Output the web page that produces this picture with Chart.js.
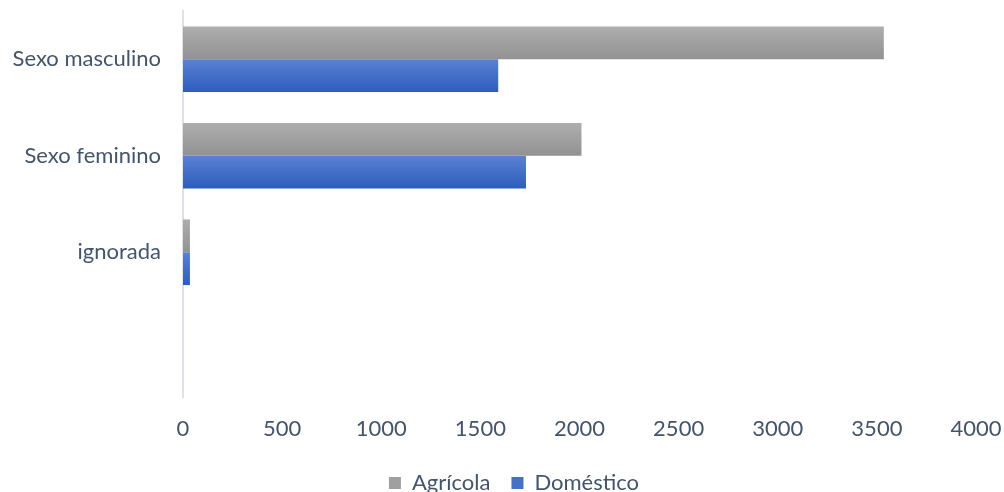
<!DOCTYPE html>
<html>
<head>
<meta charset="utf-8">
<script src="https://cdn.jsdelivr.net/npm/chart.js@4.4.1/dist/chart.umd.min.js"></script>
<style>
html,body{margin:0;padding:0;background:#fff;overflow:hidden;}
#wrap{position:relative;width:1004px;height:504px;}
</style>
</head>
<body>
<div id="wrap"><canvas id="c" width="1004" height="504"></canvas></div>
<script>
const categories = ["Sexo masculino", "Sexo feminino", "ignorada", ""];
const agricola = [3535, 2010, 35, null];
const domestico = [1590, 1730, 35, null];
const xTicks = [0, 500, 1000, 1500, 2000, 2500, 3000, 3500, 4000];
const seriesNames = ["Agrícola", "Doméstico"];

const TEXT = "#44546A";
const FONT = "Lato, 'Open Sans', sans-serif";
const CAT_PCT = 0.68;
const LEGEND_SHIFT = 26;

function barGradient(context, dsIndex, c1, c2) {
  const chart = context.chart;
  const y = chart.scales && chart.scales.y;
  if (!chart.chartArea || !y || context.dataIndex === undefined) return c2;
  const i = context.dataIndex;
  const center = y.getPixelForValue(i);
  const catW = chart.chartArea.height / categories.length;
  const group = catW * CAT_PCT;
  const top = dsIndex === 0 ? center - group / 2 : center;
  const bottom = top + group / 2;
  const g = chart.ctx.createLinearGradient(0, top, 0, bottom);
  g.addColorStop(0, c1);
  g.addColorStop(1, c2);
  return g;
}

const legendShift = {
  id: "legendShift",
  afterLayout(chart) {
    if (chart.legend) {
      chart.legend.left += LEGEND_SHIFT;
      chart.legend.right += LEGEND_SHIFT;
    }
  }
};

new Chart(document.getElementById("c"), {
  type: "bar",
  data: {
    labels: categories,
    datasets: [
      {
        label: seriesNames[0],
        data: agricola,
        backgroundColor: (ctx) => barGradient(ctx, 0, "#aeaeae", "#929292"),
        borderWidth: 0,
        categoryPercentage: CAT_PCT,
        barPercentage: 1.0
      },
      {
        label: seriesNames[1],
        data: domestico,
        backgroundColor: (ctx) => barGradient(ctx, 1, "#5a81d3", "#2d5dbd"),
        borderWidth: 0,
        categoryPercentage: CAT_PCT,
        barPercentage: 1.0
      }
    ]
  },
  plugins: [legendShift],
  options: {
    indexAxis: "y",
    responsive: false,
    animation: false,
    layout: { padding: { left: 0, right: 28, top: 11, bottom: 0 } },
    plugins: {
      tooltip: { enabled: false },
      legend: {
        position: "bottom",
        labels: {
          color: TEXT,
          font: { family: FONT, size: 22 },
          boxWidth: 12,
          boxHeight: 12,
          padding: 21,
          generateLabels: (chart) => [
            { text: seriesNames[0], fillStyle: "#a0a0a0", strokeStyle: "#a0a0a0", lineWidth: 0, datasetIndex: 0, fontColor: TEXT },
            { text: seriesNames[1], fillStyle: "#4470c8", strokeStyle: "#4470c8", lineWidth: 0, datasetIndex: 1, fontColor: TEXT }
          ]
        }
      }
    },
    scales: {
      x: {
        min: 0,
        max: 4000,
        afterBuildTicks: (scale) => { scale.ticks = xTicks.map(v => ({ value: v })); },
        afterFit: (scale) => { scale.height = 54; scale.paddingLeft = 0; scale.paddingRight = 0; },
        grid: { display: false, drawTicks: false },
        border: { display: false },
        ticks: { color: TEXT, font: { family: FONT, size: 22 }, padding: 19, maxRotation: 0,
                 callback: (v) => String(v) }
      },
      y: {
        afterFit: (scale) => { scale.width = 183; scale.paddingTop = 0; scale.paddingBottom = 0; },
        grid: { display: false, drawTicks: false },
        border: { display: true, color: "#dde2ea", width: 2 },
        ticks: { color: TEXT, font: { family: FONT, size: 22 }, padding: 22 }
      }
    }
  }
});
</script>
</body>
</html>
